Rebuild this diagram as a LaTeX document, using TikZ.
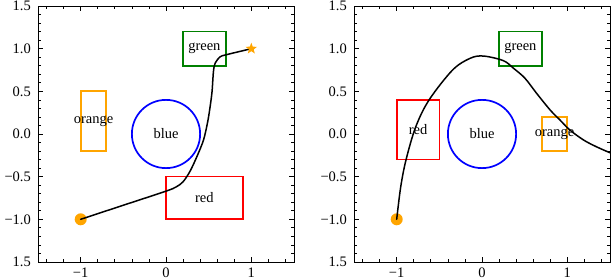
\documentclass[tikz,border=0pt]{standalone}
\usepackage{fontspec}
\setmainfont{Liberation Serif}
\usetikzlibrary{shapes.geometric}
\definecolor{cgreen}{RGB}{0,128,0}
\definecolor{corange}{RGB}{255,165,0}
\newcommand\panelaxes[1]{%
  \draw[axisline] (-1.5,-1.5) rectangle (1.5,1.5);
  \foreach \v in {-1.4,-1.2,-0.8,-0.6,-0.4,-0.2,0.2,0.4,0.6,0.8,1.2,1.4} {
    \draw[tickline] (\v,-1.5) -- ++(0,2.5pt);
    \draw[tickline] (\v,1.5) -- ++(0,-2.5pt);
  }
  \foreach \v/\t/\n in {-1/−1/a,0/0/b,1/1/c} {
    \draw[tickline] (\v,-1.5) -- ++(0,4.5pt);
    \draw[tickline] (\v,1.5) -- ++(0,-4.5pt);
    \node[lbl, anchor=north] (#1x\n) at ([yshift=-5.5pt]\v,-1.5) {\t};
  }
  \foreach \v in {-1.4,-1.3,-1.2,-1.1,-0.9,-0.8,-0.7,-0.6,-0.4,-0.3,-0.2,-0.1,0.1,0.2,0.3,0.4,0.6,0.7,0.8,0.9,1.1,1.2,1.3,1.4} {
    \draw[tickline] (-1.5,\v) -- ++(2.5pt,0);
    \draw[tickline] (1.5,\v) -- ++(-2.5pt,0);
  }
  \foreach \v/\t/\n in {-1.5/1.5/a,-1/−1.0/b,-0.5/−0.5/c,0/0.0/d,0.5/0.5/e,1/1.0/f,1.5/1.5/g} {
    \draw[tickline] (-1.5,\v) -- ++(4.5pt,0);
    \draw[tickline] (1.5,\v) -- ++(-4.5pt,0);
    \node[lbl, anchor=east] (#1y\n) at ([xshift=-7pt]-1.5,\v) {\t};
  }
}
\begin{document}
\begin{tikzpicture}[
  lbl/.style={font=\fontsize{14.5}{16}\selectfont, inner sep=0pt},
  axisline/.style={line width=0.9pt},
  tickline/.style={line width=0.7pt},
  objline/.style={line width=1.7pt, draw=#1},
  pathline/.style={line width=1.5pt, line join=round, line cap=round},
  startdot/.style={circle, fill=corange, minimum size=12pt, inner sep=0pt},
  goalstar/.style={star, star points=5, star point ratio=2.4, fill=corange, minimum size=12pt, inner sep=0pt},
]
\useasboundingbox (0,0) rectangle (612pt,-280pt);

% ---------- left panel ----------
\begin{scope}[shift={(166pt,-134pt)}, x=85.3pt, y=85.3pt]
  \panelaxes{L}
  \path[objline=corange] (-1,-0.2) rectangle (-0.7,0.5);
  \node[lbl] (Lorange) at (-0.85,0.15) {orange};
  \path[objline=blue] (0,0) circle (0.4);
  \node[lbl] (Lblue) at (0,0) {blue};
  \path[objline=cgreen] (0.2,0.8) rectangle (0.7,1.2);
  \node[lbl] (Lgreen) at (0.45,1.0) {green};
  \path[objline=red] (0,-1) rectangle (0.9,-0.5);
  \node[lbl] (Lred) at (0.45,-0.75) {red};
  \node[startdot] (Lstart) at (-1,-1) {};
  \draw[pathline] plot[smooth, tension=0.5] coordinates {
    (-1,-1) (-0.5,-0.835) (0,-0.67) (0.12,-0.62) (0.2,-0.56) (0.28,-0.44)
    (0.36,-0.27) (0.44,-0.07) (0.49,0.15) (0.52,0.34) (0.54,0.5)
    (0.556,0.73) (0.576,0.83) (0.635,0.905) (0.71,0.93) (1,1)};
  \node[goalstar] (Lgoal) at (1,1) {};
\end{scope}

% ---------- right panel ----------
\begin{scope}[shift={(482pt,-134pt)}, x=85.3pt, y=85.3pt]
  \panelaxes{R}
  \path[objline=red] (-1,-0.3) rectangle (-0.5,0.4);
  \node[lbl] (Rred) at (-0.75,0.05) {red};
  \path[objline=blue] (0,0) circle (0.4);
  \node[lbl] (Rblue) at (0,0) {blue};
  \path[objline=cgreen] (0.2,0.8) rectangle (0.7,1.2);
  \node[lbl] (Rgreen) at (0.45,1.0) {green};
  \path[objline=corange] (0.7,-0.2) rectangle (1.0,0.2);
  \node[lbl] (Rorange) at (0.85,0.0) {orange};
  \node[startdot] (Rstart) at (-1,-1) {};
  \begin{scope}
    \clip (-1.5,-1.5) rectangle (1.5,1.5);
    \draw[pathline] plot[smooth, tension=0.55] coordinates {
      (-1,-1) (-0.953,-0.62) (-0.89,-0.3) (-0.776,0.086) (-0.62,0.4)
      (-0.345,0.75) (-0.14,0.887) (0.016,0.914) (0.25,0.86) (0.37,0.77)
      (0.504,0.653) (0.64,0.477) (0.8,0.28) (0.914,0.164) (1.03,0.047)
      (1.19,-0.07) (1.34,-0.149) (1.5,-0.22)};
  \end{scope}
\end{scope}
\end{tikzpicture}
\end{document}
